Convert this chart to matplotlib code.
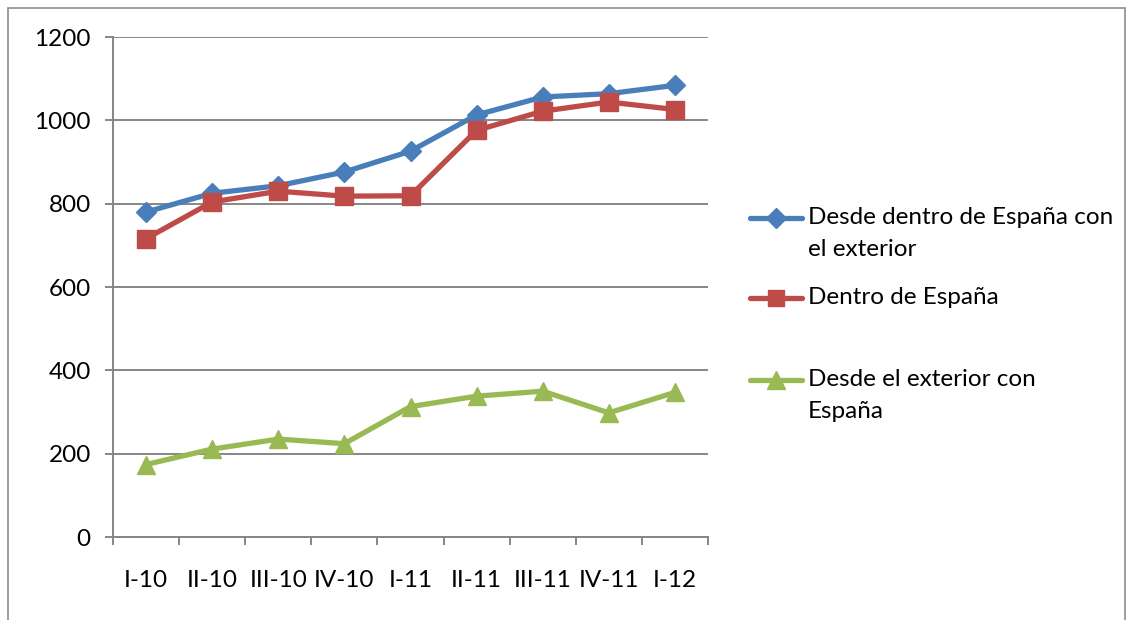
import matplotlib
matplotlib.use("Agg")
import matplotlib.pyplot as plt
from matplotlib.lines import Line2D
from matplotlib.patches import Rectangle

# Quarterly figures
quarters = ["I-10", "II-10", "III-10", "IV-10", "I-11", "II-11", "III-11", "IV-11", "I-12"]
desde_dentro_exterior = [780, 825, 843, 876, 926, 1013, 1056, 1064, 1084]
dentro_espana = [716, 804, 830, 818, 819, 976, 1022, 1044, 1026]
desde_exterior_espana = [174, 211, 235, 224, 313, 338, 350, 298, 347]

series_labels = ["Desde dentro de España con\nel exterior",
                 "Dentro de España",
                 "Desde el exterior con\nEspaña"]
y_ticks = [0, 200, 400, 600, 800, 1000, 1200]

W, H = 1133, 620
DPI = 100
FS = 17.5
plt.rcParams["font.family"] = ["Lato", "DejaVu Sans"]

fig = plt.figure(figsize=(W / DPI, H / DPI), dpi=DPI)
fig.patch.set_facecolor("white")


def px(x, y):
    return x / W, 1 - y / H


# outer chart frame
fig.add_artist(Rectangle(px(8, 640), (1125 - 8) / W, (640 - 8) / H,
                         transform=fig.transFigure, fill=False,
                         edgecolor="#8c8c8c", linewidth=1.2))

left, right, top, bottom = 113, 708, 37, 537
ax = fig.add_axes([left / W, 1 - bottom / H, (right - left) / W, (bottom - top) / H])

grid_color = "#868686"
blue, red, green = "#4A7EBB", "#BE4B48", "#98B954"
styles = [
    (desde_dentro_exterior, blue, "D", 10.5),
    (dentro_espana, red, "s", 12.5),
    (desde_exterior_espana, green, "^", 13),
]

xs = [i + 0.5 for i in range(len(quarters))]
for vals, col, mk, ms in styles:
    ax.plot(xs, vals, color=col, linewidth=3.8, marker=mk, markersize=ms,
            markerfacecolor=col, markeredgecolor=col, zorder=3,
            solid_joinstyle="round", solid_capstyle="round")

ax.set_xlim(0, len(quarters))
ax.set_ylim(0, 1200)
ax.set_yticks(y_ticks)
ax.set_yticklabels([str(v) for v in y_ticks])
ax.set_xticks(xs)
ax.set_xticklabels(quarters)
ax.set_xticks(range(len(quarters) + 1), minor=True)

ax.grid(axis="y", color=grid_color, linewidth=1.4)
ax.set_axisbelow(True)
for s in ["top", "right"]:
    ax.spines[s].set_visible(False)
for s in ["left", "bottom"]:
    ax.spines[s].set_color(grid_color)
    ax.spines[s].set_linewidth(1.4)

ax.tick_params(axis="y", length=6, width=1.4, color=grid_color, pad=10,
               labelsize=FS, labelcolor="black")
ax.tick_params(axis="x", which="major", length=0, pad=24, labelsize=FS,
               labelcolor="black")
ax.tick_params(axis="x", which="minor", length=6, width=1.4, color=grid_color)

# legend drawn at the right of the plot
legend_rows = [218, 298, 380]
for (vals, col, mk, ms), label, yrow in zip(styles, series_labels, legend_rows):
    x0, y0 = px(750, yrow)
    x1, _ = px(802, yrow)
    xm, _ = px(776, yrow)
    fig.add_artist(Line2D([x0, x1], [y0, y0], transform=fig.transFigure,
                          color=col, linewidth=3.8, solid_capstyle="round"))
    fig.add_artist(Line2D([xm], [y0], transform=fig.transFigure, color=col,
                          marker=mk, markersize=ms * 0.95, linestyle="none"))
    tx, ty = px(808, yrow - 11)
    fig.text(tx, ty, label, fontsize=FS, va="top", ha="left",
             linespacing=1.62, color="black")

fig.savefig("out.png", dpi=DPI, facecolor="white")
